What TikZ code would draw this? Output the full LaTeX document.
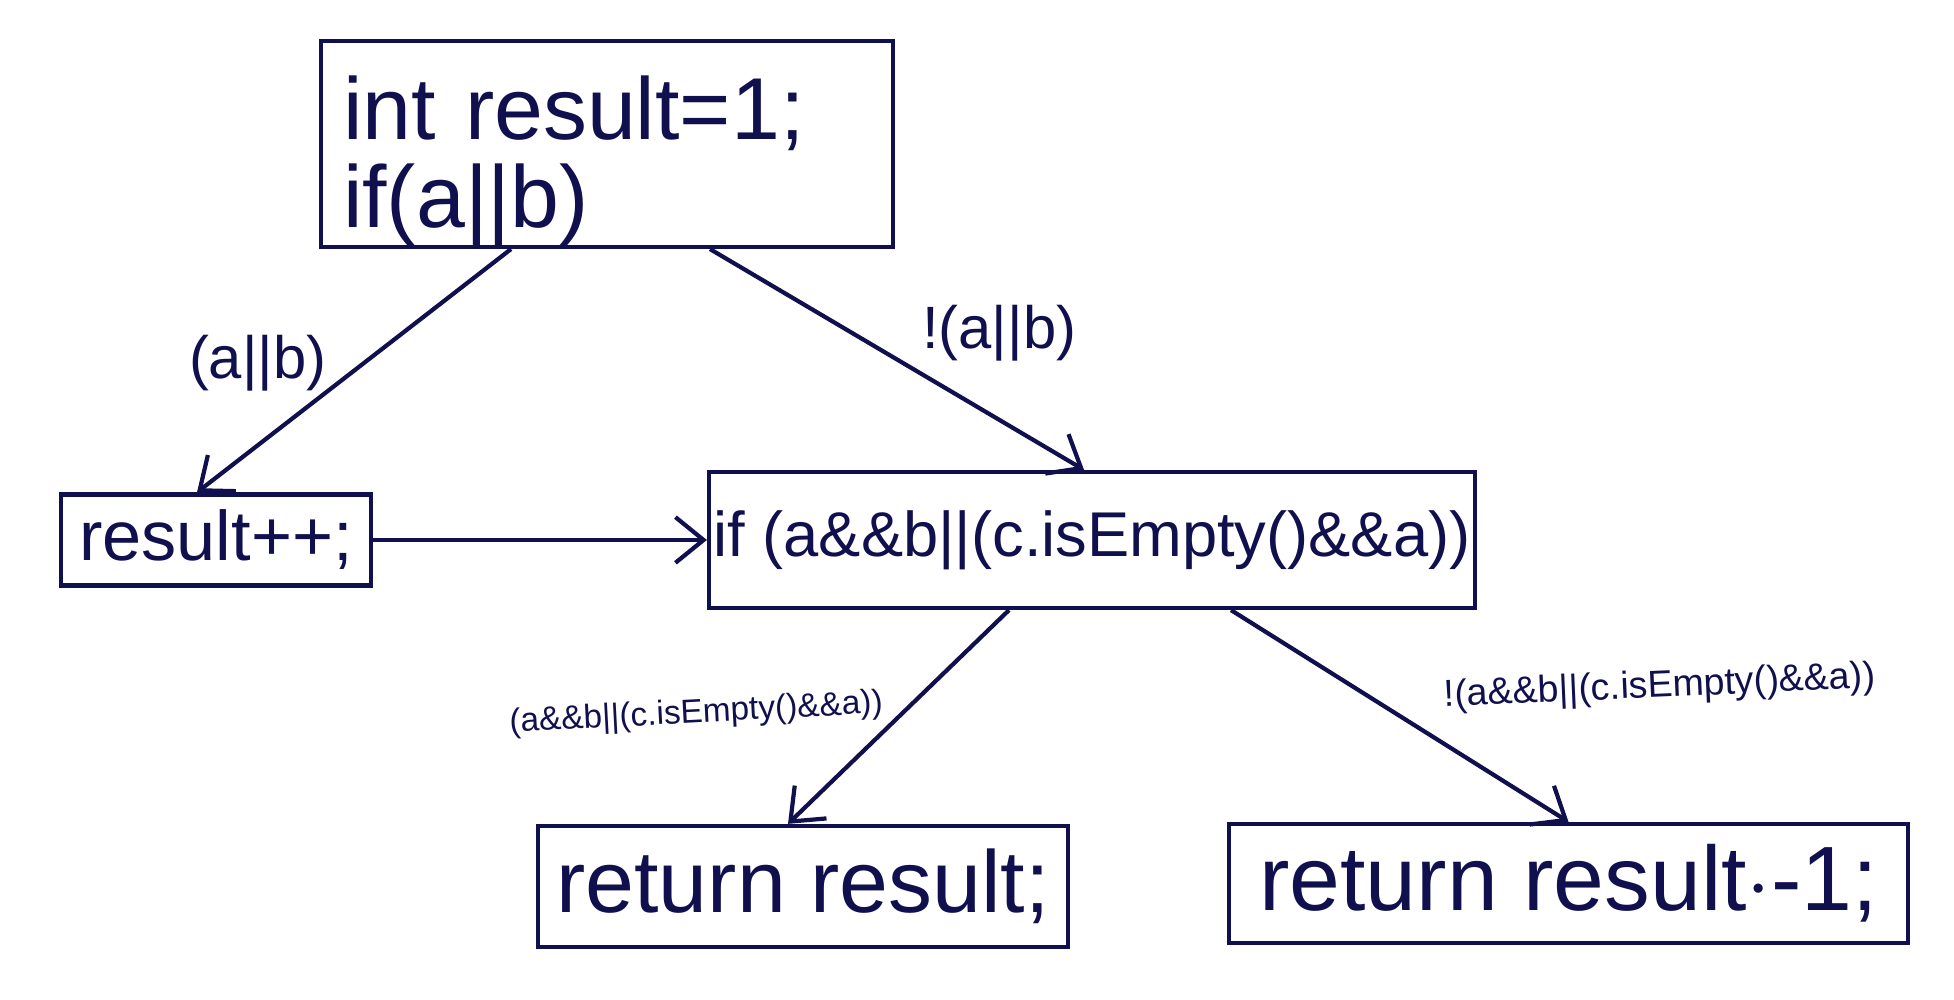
\documentclass[tikz,border=0pt]{standalone}
\usepackage{fontspec}
\setmainfont{Liberation Sans}
\usetikzlibrary{positioning, arrows.meta}
\definecolor{ink}{RGB}{16,16,78}

\begin{document}
\begin{tikzpicture}[node distance=3.45cm, line width=1.2pt,
    box/.style={rectangle, draw=ink, text=ink, inner sep=0pt},
    flow/.style={draw=ink, ->, >={Straight Barb[length=8pt, width=13pt]}},
    cond/.style={text=ink, inner sep=0pt}]
    \useasboundingbox (0,0) rectangle (19.54,10);
    % Nodes
    \node [box, minimum width=5.72cm, minimum height=2.06cm, text width=5.28cm, align=left, font=\fontsize{25}{25}\selectfont] (init) at (6.07,8.56) {\rule{0pt}{28pt}int result=1;\\if(a||b)};
    \node [box, minimum width=7.66cm, minimum height=1.36cm, below of=init, xshift=4.85cm, yshift=-0.51cm, font=\fontsize{18}{20}\selectfont] (check) {if (a\&\&b||(c.isEmpty()\&\&a))};
    \node [box, minimum width=3.10cm, minimum height=0.91cm, left of=check, xshift=-5.31cm, font=\fontsize{20}{22}\selectfont] (incr) {result++;};
    \node [box, minimum width=5.30cm, minimum height=1.21cm, below of=check, xshift=-2.89cm, yshift=-0.015cm, font=\fontsize{25}{27}\selectfont] (retpos) {return result;};
    \node [box, minimum width=6.79cm, minimum height=1.19cm, below of=check, xshift=4.765cm, yshift=0.015cm, font=\fontsize{26}{28}\selectfont] (retneg) {return result$\cdot$-1;};

    % Path
    \draw [flow] ([xshift=-0.96cm]init.south) -- node [cond, pos=0.47, left=0.35cm, font=\fontsize{17}{19}\selectfont] {(a||b)} ([xshift=-0.19cm]incr.north);
    \draw [flow] ([xshift=1.03cm]init.south) -- node [cond, pos=0.38, right=0.68cm, font=\fontsize{17}{19}\selectfont] {!(a||b)} ([xshift=-0.08cm]check.north);
    \draw [flow] (incr.east) -- (check.west);
    \draw [flow] ([xshift=-0.83cm]check.south) -- node [cond, pos=0.44, left=0.27cm, rotate=3, font=\fontsize{9.5}{11}\selectfont] {(a\&\&b||(c.isEmpty()\&\&a))} ([xshift=-0.15cm]retpos.north);
    \draw [flow] ([xshift=1.39cm]check.south) -- node [cond, pos=0.41, right=0.73cm, rotate=2.5, font=\fontsize{10.7}{12}\selectfont] {!(a\&\&b||(c.isEmpty()\&\&a))} (retneg.north);
\end{tikzpicture}
\end{document}
